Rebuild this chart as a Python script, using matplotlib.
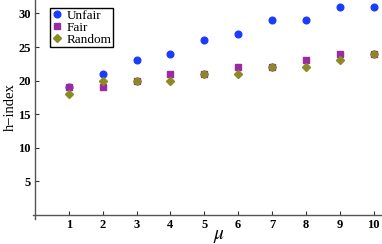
import numpy as np
import matplotlib
matplotlib.use("Agg")
import matplotlib.pyplot as plt

mu = [1, 2, 3, 4, 5, 6, 7, 8, 9, 10]
unfair = [19, 21, 23, 24, 26, 27, 29, 29, 31, 31]
fair = [19, 19, 20, 21, 21, 22, 22, 23, 24, 24]
random_ = [18, 20, 20, 20, 21, 21, 22, 22, 23, 24]

plt.rcParams["font.family"] = ["Liberation Serif", "DejaVu Serif"]
plt.rcParams["mathtext.fontset"] = "stix"

fig = plt.figure(figsize=(3.82, 2.44), dpi=100)
ax = fig.add_axes([35 / 382, 29 / 244, 347 / 382, 215 / 244])

ax.plot(mu, unfair, "o", color="#1a3cff", markersize=4.8, label="Unfair", clip_on=False)
ax.plot(mu, fair, "s", color="#9a2aa6", markersize=4.2, label="Fair", clip_on=False)
ax.plot(mu, random_, "D", color="#8c8a22", markersize=4, label="Random", clip_on=False)

ax.set_xlim(0, 10.25)
ax.set_ylim(0, 32)
ax.set_xticks(mu)
ax.set_yticks([5, 10, 15, 20, 25, 30])

for s in ["top", "right"]:
    ax.spines[s].set_visible(False)
for s in ["left", "bottom"]:
    ax.spines[s].set_color("#555555")
    ax.spines[s].set_linewidth(1.0)
ax.spines["left"].set_bounds(-0.6, 32)
ax.spines["bottom"].set_bounds(-0.06, 10.25)

ax.tick_params(direction="in", length=3, width=0.8, color="#333333",
               labelsize=9, pad=3)
for lbl in ax.get_xticklabels() + ax.get_yticklabels():
    lbl.set_fontweight("bold")

ax.set_ylabel("h\u2212index", fontsize=10.5, labelpad=1)
ax.set_xlabel("$\\mu$", fontsize=14)
ax.xaxis.set_label_coords(184 / 347, -0.06)

leg = ax.legend(loc="upper left", bbox_to_anchor=(0.035, 0.975), fontsize=9.5,
                handletextpad=0.3, borderpad=0.1, labelspacing=0.0,
                handlelength=0.9, borderaxespad=0.2, fancybox=False, framealpha=1)
leg.get_frame().set_edgecolor("black")
leg.get_frame().set_linewidth(1.0)

fig.savefig("out.png", dpi=100)
